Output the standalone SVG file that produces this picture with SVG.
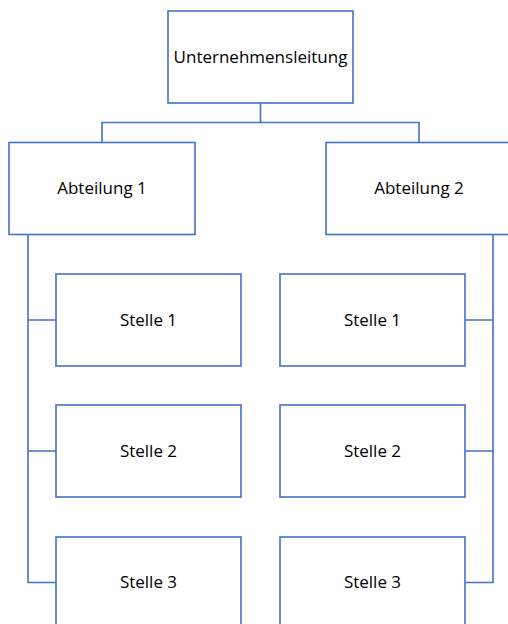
<svg xmlns="http://www.w3.org/2000/svg" width="508" height="624" viewBox="0 0 508 624">
<style>
.box{fill:#fff;stroke:#4472C4;stroke-width:1.6}
.con{fill:none;stroke:#4472C4;stroke-width:1.6}
text{font-family:"Open Sans","Liberation Sans",sans-serif;font-size:17px;fill:#000;text-anchor:middle}
</style>
<rect width="508" height="624" fill="#fff"/>
<g id="connectors">
<path class="con" d="M260.5 103V122.5M102 142V122.5H419V142"/>
<path class="con" d="M28 235V582.5H56M28 320H56M28 451H56"/>
<path class="con" d="M493 235V582.5H465M493 320H465M493 451H465"/>
</g>
<g id="n-leitung"><rect class="box" x="168" y="11" width="185" height="92"/><text x="260.5" y="63">Unternehmensleitung</text></g>
<g id="n-abt1"><rect class="box" x="9" y="142.5" width="186" height="92"/><text x="102" y="194">Abteilung 1</text></g>
<g id="n-abt2"><rect class="box" x="326" y="142.5" width="186" height="92"/><text x="419" y="194">Abteilung 2</text></g>
<g id="n-s1l"><rect class="box" x="56" y="274" width="185" height="92"/><text x="148.5" y="326">Stelle 1</text></g>
<g id="n-s2l"><rect class="box" x="56" y="405" width="185" height="92"/><text x="148.5" y="457">Stelle 2</text></g>
<g id="n-s3l"><rect class="box" x="56" y="537" width="185" height="92"/><text x="148.5" y="588">Stelle 3</text></g>
<g id="n-s1r"><rect class="box" x="280" y="274" width="185" height="92"/><text x="372.5" y="326">Stelle 1</text></g>
<g id="n-s2r"><rect class="box" x="280" y="405" width="185" height="92"/><text x="372.5" y="457">Stelle 2</text></g>
<g id="n-s3r"><rect class="box" x="280" y="537" width="185" height="92"/><text x="372.5" y="588">Stelle 3</text></g>
</svg>
